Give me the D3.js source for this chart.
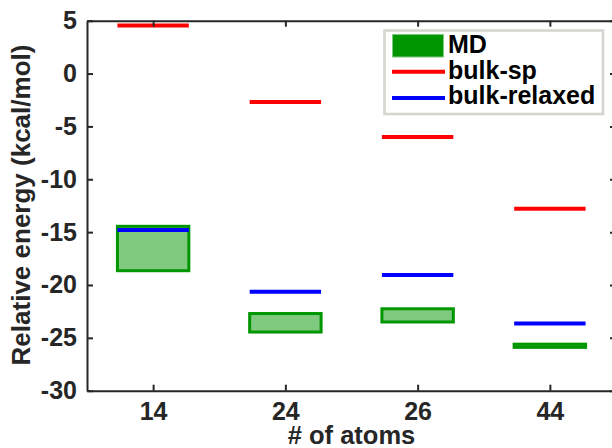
<!DOCTYPE html>
<html>
<head>
<meta charset="utf-8">
<script src="https://cdn.jsdelivr.net/npm/d3@7"></script>
<style>
  body { margin: 0; background: #fff; }
  svg { display: block; }
</style>
</head>
<body>
<div class="usable"></div>
<script>
// data
const categories = ["14", "24", "26", "44"];
const bulkSp = [4.55, -2.7, -6.0, -12.8];
const bulkRelaxed = [-14.8, -20.65, -19.05, -23.65];
const mdTop = [-14.45, -22.7, -22.25, -25.6];
const mdBottom = [-18.65, -24.45, -23.5, -25.9];
const yTicks = [5, 0, -5, -10, -15, -20, -25, -30];
const legendNames = ["MD", "bulk-sp", "bulk-relaxed"];

const W = 612, H = 448;
const plotL = 87, plotR = 616, plotT = 20.7, plotB = 390.7;
const font = "'Liberation Sans', Arial, Helvetica, sans-serif";
const axisColor = "#262626";
const green = "#009600";
const halfW = 0.27;

let svg = d3.select(".usable").append("svg")
    .attr("width", W)
    .attr("height", H);

let x = d3.scaleLinear().domain([0.5, 4.5]).range([plotL, plotR]);
let y = d3.scaleLinear().domain([-30, 5]).range([plotB, plotT]);

// MD ranges as boxes
svg.append("g").selectAll("rect")
    .data(categories)
    .join("rect")
    .attr("x", (d, i) => x(i + 1 - halfW))
    .attr("y", (d, i) => y(mdTop[i]))
    .attr("width", x(1 + halfW) - x(1 - halfW))
    .attr("height", (d, i) => y(mdBottom[i]) - y(mdTop[i]))
    .attr("fill", green)
    .attr("fill-opacity", 0.5)
    .attr("stroke", green)
    .attr("stroke-width", 3);

// horizontal level lines
function levels(vals, color) {
    svg.append("g").selectAll("line")
        .data(vals)
        .join("line")
        .attr("x1", (d, i) => x(i + 1 - halfW))
        .attr("x2", (d, i) => x(i + 1 + halfW))
        .attr("y1", d => y(d))
        .attr("y2", d => y(d))
        .attr("stroke", color)
        .attr("stroke-width", 4);
}
levels(bulkSp, "#ff0000");
levels(bulkRelaxed, "#0000ff");

// axes
function styleAxis(g) {
    g.attr("font-family", font)
        .attr("font-size", 25)
        .attr("font-weight", "bold");
    g.selectAll("path, line").attr("stroke", axisColor).attr("stroke-width", 2);
    g.selectAll("text").attr("fill", axisColor);
}

svg.append("g")
    .attr("transform", `translate(0,${plotB})`)
    .call(d3.axisBottom(x).tickValues([1, 2, 3, 4])
        .tickFormat((d, i) => categories[i])
        .tickSizeInner(-6).tickSizeOuter(0).tickPadding(11.5))
    .call(styleAxis);

svg.append("g")
    .attr("transform", `translate(0,${plotT})`)
    .call(d3.axisTop(x).tickValues([1, 2, 3, 4]).tickFormat("")
        .tickSizeInner(-6).tickSizeOuter(0))
    .call(styleAxis);

// plain hyphen for negatives, like the original
svg.append("g")
    .attr("transform", `translate(${plotL},0)`)
    .call(d3.axisLeft(y).tickValues(yTicks).tickFormat(d => String(d))
        .tickSizeInner(-6).tickSizeOuter(0).tickPadding(10))
    .call(styleAxis);

svg.append("g")
    .attr("transform", `translate(${plotR},0)`)
    .call(d3.axisRight(y).tickValues(yTicks).tickFormat("")
        .tickSizeInner(-6).tickSizeOuter(0))
    .call(styleAxis);

// axis titles
svg.append("text")
    .text("# of atoms")
    .attr("x", (plotL + plotR) / 2)
    .attr("y", 444)
    .attr("text-anchor", "middle")
    .attr("font-family", font)
    .attr("font-size", 25.5)
    .attr("font-weight", "bold")
    .attr("fill", axisColor);

svg.append("text")
    .text("Relative energy (kcal/mol)")
    .attr("transform", "translate(30,205) rotate(-90)")
    .attr("text-anchor", "middle")
    .attr("font-family", font)
    .attr("font-size", 26)
    .attr("font-weight", "bold")
    .attr("fill", axisColor);

// legend
let legend = svg.append("g");
legend.append("rect")
    .attr("x", 384.5).attr("y", 30.5)
    .attr("width", 218.5).attr("height", 83.5)
    .attr("fill", "#fff")
    .attr("stroke", "#d8d5cf")
    .attr("stroke-width", 2.6);

legend.append("rect")
    .attr("x", 392.5).attr("y", 34.5)
    .attr("width", 51).attr("height", 22.5)
    .attr("fill", green)
    .attr("stroke", "#7fca7f")
    .attr("stroke-width", 1);

[["#ff0000", 71.7], ["#0000ff", 98]].forEach(([c, ly]) => {
    legend.append("line")
        .attr("x1", 392).attr("x2", 445)
        .attr("y1", ly).attr("y2", ly)
        .attr("stroke", c).attr("stroke-width", 4);
});

legend.selectAll("text")
    .data(legendNames)
    .join("text")
    .text(d => d)
    .attr("x", 448)
    .attr("y", (d, i) => [53, 78.5, 104][i])
    .attr("font-family", font)
    .attr("font-size", 25)
    .attr("font-weight", "bold")
    .attr("fill", "#000");
</script>
</body>
</html>
